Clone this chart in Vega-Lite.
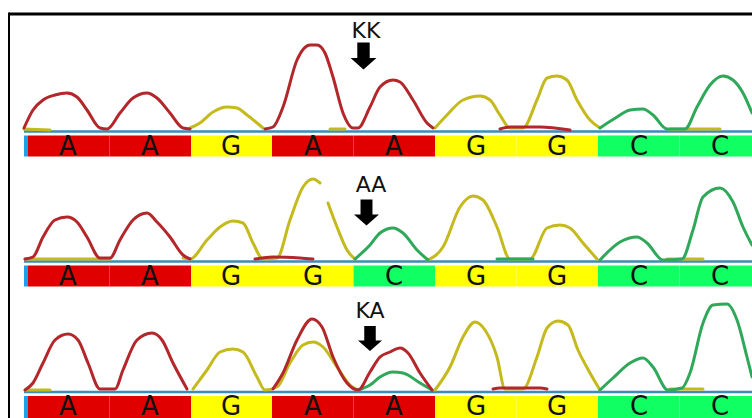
{
  "$schema": "https://vega.github.io/schema/vega-lite/v6.json",
  "padding": 0,
  "spacing": 0,
  "bounds": "flush",
  "background": "white",
  "config": {"view": {"stroke": null}, "concat": {"spacing": 0}},
  "resolve": {"scale": {"x": "independent", "y": "independent"}},
  "datasets": {
    "traces": [
      {"p":1,"c":"G","s":"a","x":24,"y":2},{"p":1,"c":"G","s":"a","x":50,"y":1},
      {"p":1,"c":"G","s":"b","x":190,"y":3},{"p":1,"c":"G","s":"b","x":200,"y":8},{"p":1,"c":"G","s":"b","x":213,"y":19},{"p":1,"c":"G","s":"b","x":227,"y":24},{"p":1,"c":"G","s":"b","x":237,"y":23},{"p":1,"c":"G","s":"b","x":247,"y":16},{"p":1,"c":"G","s":"b","x":263,"y":3},
      {"p":1,"c":"G","s":"c","x":330,"y":2},{"p":1,"c":"G","s":"c","x":345,"y":2},
      {"p":1,"c":"G","s":"d","x":435,"y":3},{"p":1,"c":"G","s":"d","x":447,"y":16},{"p":1,"c":"G","s":"d","x":463,"y":31},{"p":1,"c":"G","s":"d","x":480,"y":35},{"p":1,"c":"G","s":"d","x":490,"y":31},{"p":1,"c":"G","s":"d","x":500,"y":16},{"p":1,"c":"G","s":"d","x":510,"y":3},{"p":1,"c":"G","s":"d","x":523,"y":3},{"p":1,"c":"G","s":"d","x":537,"y":31},{"p":1,"c":"G","s":"d","x":547,"y":53},{"p":1,"c":"G","s":"d","x":557,"y":55},{"p":1,"c":"G","s":"d","x":567,"y":51},{"p":1,"c":"G","s":"d","x":577,"y":31},{"p":1,"c":"G","s":"d","x":590,"y":11},{"p":1,"c":"G","s":"d","x":600,"y":3},
      {"p":1,"c":"G","s":"e","x":670,"y":2},{"p":1,"c":"G","s":"e","x":720,"y":2},
      {"p":1,"c":"C","s":"a","x":600,"y":3},{"p":1,"c":"C","s":"a","x":617,"y":14},{"p":1,"c":"C","s":"a","x":630,"y":21},{"p":1,"c":"C","s":"a","x":643,"y":22},{"p":1,"c":"C","s":"a","x":653,"y":16},{"p":1,"c":"C","s":"a","x":667,"y":2},{"p":1,"c":"C","s":"a","x":685,"y":2},{"p":1,"c":"C","s":"a","x":697,"y":24},{"p":1,"c":"C","s":"a","x":710,"y":46},{"p":1,"c":"C","s":"a","x":723,"y":55},{"p":1,"c":"C","s":"a","x":733,"y":51},{"p":1,"c":"C","s":"a","x":743,"y":38},{"p":1,"c":"C","s":"a","x":752,"y":18},
      {"p":1,"c":"A","s":"a","x":24,"y":3},{"p":1,"c":"A","s":"a","x":33,"y":21},{"p":1,"c":"A","s":"a","x":43,"y":31},{"p":1,"c":"A","s":"a","x":55,"y":36},{"p":1,"c":"A","s":"a","x":67,"y":38},{"p":1,"c":"A","s":"a","x":77,"y":34},{"p":1,"c":"A","s":"a","x":87,"y":21},{"p":1,"c":"A","s":"a","x":100,"y":3},{"p":1,"c":"A","s":"a","x":107,"y":2},{"p":1,"c":"A","s":"a","x":120,"y":18},{"p":1,"c":"A","s":"a","x":133,"y":33},{"p":1,"c":"A","s":"a","x":147,"y":38},{"p":1,"c":"A","s":"a","x":157,"y":33},{"p":1,"c":"A","s":"a","x":170,"y":18},{"p":1,"c":"A","s":"a","x":183,"y":3},{"p":1,"c":"A","s":"a","x":190,"y":2},
      {"p":1,"c":"A","s":"b","x":265,"y":2},{"p":1,"c":"A","s":"b","x":273,"y":4},{"p":1,"c":"A","s":"b","x":283,"y":24},{"p":1,"c":"A","s":"b","x":297,"y":71},{"p":1,"c":"A","s":"b","x":310,"y":86},{"p":1,"c":"A","s":"b","x":317,"y":86},{"p":1,"c":"A","s":"b","x":325,"y":78},{"p":1,"c":"A","s":"b","x":333,"y":54},{"p":1,"c":"A","s":"b","x":343,"y":18},{"p":1,"c":"A","s":"b","x":353,"y":3},{"p":1,"c":"A","s":"b","x":358,"y":3},{"p":1,"c":"A","s":"b","x":370,"y":24},{"p":1,"c":"A","s":"b","x":380,"y":44},{"p":1,"c":"A","s":"b","x":393,"y":51},{"p":1,"c":"A","s":"b","x":400,"y":49},{"p":1,"c":"A","s":"b","x":413,"y":31},{"p":1,"c":"A","s":"b","x":427,"y":8},{"p":1,"c":"A","s":"b","x":433,"y":3},
      {"p":1,"c":"A","s":"c","x":500,"y":2},{"p":1,"c":"A","s":"c","x":510,"y":4},{"p":1,"c":"A","s":"c","x":540,"y":4},{"p":1,"c":"A","s":"c","x":570,"y":1},

      {"p":2,"c":"G","s":"a","x":25,"y":2},{"p":2,"c":"G","s":"a","x":110,"y":2},
      {"p":2,"c":"G","s":"b","x":183,"y":3},{"p":2,"c":"G","s":"b","x":190,"y":2},{"p":2,"c":"G","s":"b","x":207,"y":21},{"p":2,"c":"G","s":"b","x":220,"y":34},{"p":2,"c":"G","s":"b","x":233,"y":40},{"p":2,"c":"G","s":"b","x":243,"y":38},{"p":2,"c":"G","s":"b","x":253,"y":18},{"p":2,"c":"G","s":"b","x":263,"y":2},{"p":2,"c":"G","s":"b","x":277,"y":3},{"p":2,"c":"G","s":"b","x":290,"y":41},{"p":2,"c":"G","s":"b","x":303,"y":74},{"p":2,"c":"G","s":"b","x":313,"y":82},{"p":2,"c":"G","s":"b","x":320,"y":78},
      {"p":2,"c":"G","s":"c","x":328,"y":58},{"p":2,"c":"G","s":"c","x":337,"y":34},{"p":2,"c":"G","s":"c","x":347,"y":11},{"p":2,"c":"G","s":"c","x":355,"y":2},
      {"p":2,"c":"G","s":"d","x":428,"y":1},{"p":2,"c":"G","s":"d","x":443,"y":14},{"p":2,"c":"G","s":"d","x":460,"y":54},{"p":2,"c":"G","s":"d","x":473,"y":65},{"p":2,"c":"G","s":"d","x":483,"y":61},{"p":2,"c":"G","s":"d","x":497,"y":34},{"p":2,"c":"G","s":"d","x":510,"y":2},{"p":2,"c":"G","s":"d","x":530,"y":2},{"p":2,"c":"G","s":"d","x":547,"y":33},{"p":2,"c":"G","s":"d","x":560,"y":36},{"p":2,"c":"G","s":"d","x":570,"y":33},{"p":2,"c":"G","s":"d","x":583,"y":18},{"p":2,"c":"G","s":"d","x":597,"y":2},
      {"p":2,"c":"G","s":"e","x":667,"y":2},{"p":2,"c":"G","s":"e","x":703,"y":2},
      {"p":2,"c":"C","s":"a","x":355,"y":2},{"p":2,"c":"C","s":"a","x":370,"y":16},{"p":2,"c":"C","s":"a","x":380,"y":28},{"p":2,"c":"C","s":"a","x":393,"y":33},{"p":2,"c":"C","s":"a","x":403,"y":28},{"p":2,"c":"C","s":"a","x":417,"y":11},{"p":2,"c":"C","s":"a","x":428,"y":1},
      {"p":2,"c":"C","s":"b","x":497,"y":2},{"p":2,"c":"C","s":"b","x":533,"y":2},
      {"p":2,"c":"C","s":"c","x":600,"y":1},{"p":2,"c":"C","s":"c","x":620,"y":19},{"p":2,"c":"C","s":"c","x":637,"y":24},{"p":2,"c":"C","s":"c","x":647,"y":18},{"p":2,"c":"C","s":"c","x":663,"y":1},{"p":2,"c":"C","s":"c","x":682,"y":2},{"p":2,"c":"C","s":"c","x":693,"y":31},{"p":2,"c":"C","s":"c","x":703,"y":64},{"p":2,"c":"C","s":"c","x":720,"y":73},{"p":2,"c":"C","s":"c","x":733,"y":59},{"p":2,"c":"C","s":"c","x":743,"y":34},{"p":2,"c":"C","s":"c","x":752,"y":16},
      {"p":2,"c":"A","s":"a","x":25,"y":2},{"p":2,"c":"A","s":"a","x":33,"y":4},{"p":2,"c":"A","s":"a","x":43,"y":24},{"p":2,"c":"A","s":"a","x":55,"y":41},{"p":2,"c":"A","s":"a","x":67,"y":44},{"p":2,"c":"A","s":"a","x":77,"y":39},{"p":2,"c":"A","s":"a","x":87,"y":24},{"p":2,"c":"A","s":"a","x":100,"y":3},{"p":2,"c":"A","s":"a","x":110,"y":3},{"p":2,"c":"A","s":"a","x":120,"y":21},{"p":2,"c":"A","s":"a","x":133,"y":41},{"p":2,"c":"A","s":"a","x":147,"y":48},{"p":2,"c":"A","s":"a","x":157,"y":39},{"p":2,"c":"A","s":"a","x":170,"y":24},{"p":2,"c":"A","s":"a","x":183,"y":6},{"p":2,"c":"A","s":"a","x":190,"y":2},
      {"p":2,"c":"A","s":"b","x":255,"y":2},{"p":2,"c":"A","s":"b","x":262,"y":3},{"p":2,"c":"A","s":"b","x":273,"y":4},{"p":2,"c":"A","s":"b","x":300,"y":3},{"p":2,"c":"A","s":"b","x":313,"y":2},

      {"p":3,"c":"G","s":"a","x":25,"y":1.5},{"p":3,"c":"G","s":"a","x":50,"y":1.5},
      {"p":3,"c":"G","s":"b","x":193,"y":2.5},{"p":3,"c":"G","s":"b","x":207,"y":21.5},{"p":3,"c":"G","s":"b","x":220,"y":39.5},{"p":3,"c":"G","s":"b","x":233,"y":42.5},{"p":3,"c":"G","s":"b","x":243,"y":39.5},{"p":3,"c":"G","s":"b","x":257,"y":14.5},{"p":3,"c":"G","s":"b","x":265,"y":1.5},{"p":3,"c":"G","s":"b","x":277,"y":4.5},{"p":3,"c":"G","s":"b","x":290,"y":28.5},{"p":3,"c":"G","s":"b","x":303,"y":46.5},{"p":3,"c":"G","s":"b","x":313,"y":49.5},{"p":3,"c":"G","s":"b","x":323,"y":44.5},{"p":3,"c":"G","s":"b","x":337,"y":24.5},{"p":3,"c":"G","s":"b","x":350,"y":6.5},{"p":3,"c":"G","s":"b","x":358,"y":1.5},
      {"p":3,"c":"G","s":"c","x":435,"y":1.5},{"p":3,"c":"G","s":"c","x":450,"y":24.5},{"p":3,"c":"G","s":"c","x":463,"y":54.5},{"p":3,"c":"G","s":"c","x":475,"y":69.5},{"p":3,"c":"G","s":"c","x":485,"y":61.5},{"p":3,"c":"G","s":"c","x":497,"y":34.5},{"p":3,"c":"G","s":"c","x":505,"y":2.5},{"p":3,"c":"G","s":"c","x":523,"y":2.5},{"p":3,"c":"G","s":"c","x":537,"y":34.5},{"p":3,"c":"G","s":"c","x":547,"y":63.5},{"p":3,"c":"G","s":"c","x":558,"y":70.5},{"p":3,"c":"G","s":"c","x":568,"y":66.5},{"p":3,"c":"G","s":"c","x":578,"y":41.5},{"p":3,"c":"G","s":"c","x":590,"y":18.5},{"p":3,"c":"G","s":"c","x":600,"y":1.5},
      {"p":3,"c":"G","s":"d","x":670,"y":2.5},{"p":3,"c":"G","s":"d","x":703,"y":2.5},
      {"p":3,"c":"C","s":"a","x":358,"y":1.5},{"p":3,"c":"C","s":"a","x":370,"y":6.5},{"p":3,"c":"C","s":"a","x":380,"y":14.5},{"p":3,"c":"C","s":"a","x":393,"y":19.5},{"p":3,"c":"C","s":"a","x":403,"y":18.5},{"p":3,"c":"C","s":"a","x":420,"y":8.5},{"p":3,"c":"C","s":"a","x":432,"y":1.5},
      {"p":3,"c":"C","s":"b","x":600,"y":1.5},{"p":3,"c":"C","s":"b","x":613,"y":13.5},{"p":3,"c":"C","s":"b","x":630,"y":28.5},{"p":3,"c":"C","s":"b","x":643,"y":33.5},{"p":3,"c":"C","s":"b","x":653,"y":24.5},{"p":3,"c":"C","s":"b","x":668,"y":1.5},{"p":3,"c":"C","s":"b","x":682,"y":3.5},{"p":3,"c":"C","s":"b","x":690,"y":18.5},{"p":3,"c":"C","s":"b","x":703,"y":68.5},{"p":3,"c":"C","s":"b","x":713,"y":86.5},{"p":3,"c":"C","s":"b","x":727,"y":87.5},{"p":3,"c":"C","s":"b","x":737,"y":71.5},{"p":3,"c":"C","s":"b","x":747,"y":34.5},{"p":3,"c":"C","s":"b","x":752,"y":14.5},
      {"p":3,"c":"A","s":"a","x":25,"y":1.5},{"p":3,"c":"A","s":"a","x":33,"y":8.5},{"p":3,"c":"A","s":"a","x":43,"y":28.5},{"p":3,"c":"A","s":"a","x":55,"y":51.5},{"p":3,"c":"A","s":"a","x":68,"y":57.5},{"p":3,"c":"A","s":"a","x":78,"y":51.5},{"p":3,"c":"A","s":"a","x":88,"y":28.5},{"p":3,"c":"A","s":"a","x":100,"y":2.5},{"p":3,"c":"A","s":"a","x":115,"y":2.5},{"p":3,"c":"A","s":"a","x":123,"y":21.5},{"p":3,"c":"A","s":"a","x":137,"y":51.5},{"p":3,"c":"A","s":"a","x":152,"y":58.5},{"p":3,"c":"A","s":"a","x":162,"y":51.5},{"p":3,"c":"A","s":"a","x":173,"y":28.5},{"p":3,"c":"A","s":"a","x":187,"y":2.5},
      {"p":3,"c":"A","s":"b","x":273,"y":2.5},{"p":3,"c":"A","s":"b","x":283,"y":18.5},{"p":3,"c":"A","s":"b","x":297,"y":51.5},{"p":3,"c":"A","s":"b","x":312,"y":72.5},{"p":3,"c":"A","s":"b","x":322,"y":64.5},{"p":3,"c":"A","s":"b","x":333,"y":34.5},{"p":3,"c":"A","s":"b","x":347,"y":8.5},{"p":3,"c":"A","s":"b","x":358,"y":1.5},{"p":3,"c":"A","s":"b","x":370,"y":19.5},{"p":3,"c":"A","s":"b","x":380,"y":34.5},{"p":3,"c":"A","s":"b","x":390,"y":39.5},{"p":3,"c":"A","s":"b","x":400,"y":43.5},{"p":3,"c":"A","s":"b","x":408,"y":38.5},{"p":3,"c":"A","s":"b","x":420,"y":18.5},{"p":3,"c":"A","s":"b","x":432,"y":1.5},
      {"p":3,"c":"A","s":"c","x":493,"y":2.5},{"p":3,"c":"A","s":"c","x":500,"y":3.5},{"p":3,"c":"A","s":"c","x":540,"y":3.5},{"p":3,"c":"A","s":"c","x":547,"y":2.5}
    ],
    "bases": [
      {"p":1,"b":"A","x0":28,"x1":109.5,"xc":68},{"p":1,"b":"A","x0":109.5,"x1":191,"xc":150},{"p":1,"b":"G","x0":191,"x1":272,"xc":231},{"p":1,"b":"A","x0":272,"x1":353.5,"xc":313},{"p":1,"b":"A","x0":353.5,"x1":435,"xc":394},{"p":1,"b":"G","x0":435,"x1":516.5,"xc":476},{"p":1,"b":"G","x0":516.5,"x1":598,"xc":557},{"p":1,"b":"C","x0":598,"x1":679.5,"xc":639},{"p":1,"b":"C","x0":679.5,"x1":752,"xc":720},
      {"p":2,"b":"A","x0":28,"x1":109.5,"xc":68},{"p":2,"b":"A","x0":109.5,"x1":191,"xc":150},{"p":2,"b":"G","x0":191,"x1":272,"xc":231},{"p":2,"b":"G","x0":272,"x1":353.5,"xc":313},{"p":2,"b":"C","x0":353.5,"x1":435,"xc":394},{"p":2,"b":"G","x0":435,"x1":516.5,"xc":476},{"p":2,"b":"G","x0":516.5,"x1":598,"xc":557},{"p":2,"b":"C","x0":598,"x1":679.5,"xc":639},{"p":2,"b":"C","x0":679.5,"x1":752,"xc":720},
      {"p":3,"b":"A","x0":28,"x1":109.5,"xc":68},{"p":3,"b":"A","x0":109.5,"x1":191,"xc":150},{"p":3,"b":"G","x0":191,"x1":272,"xc":231},{"p":3,"b":"A","x0":272,"x1":353.5,"xc":313},{"p":3,"b":"A","x0":353.5,"x1":435,"xc":394},{"p":3,"b":"G","x0":435,"x1":516.5,"xc":476},{"p":3,"b":"G","x0":516.5,"x1":598,"xc":557},{"p":3,"b":"C","x0":598,"x1":679.5,"xc":639},{"p":3,"b":"C","x0":679.5,"x1":752,"xc":720}
    ],
    "labels": [
      {"p":1,"t":"KK","x":366,"y":93,"ax":363.5,"ay":75},
      {"p":2,"t":"AA","x":371,"y":69,"ax":366.5,"ay":48.5},
      {"p":3,"t":"KA","x":370,"y":73.5,"ax":370,"ay":53}
    ]
  },
  "vconcat": [
    {
      "width": 752, "height": 158,
      "layer": [
        {"data": {"values": [{}]}, "mark": {"type": "rule", "color": "black", "strokeWidth": 3},
         "encoding": {"x": {"datum": 9, "type": "quantitative", "scale": {"domain": [0, 752], "nice": false, "zero": false}, "axis": null}, "x2": {"datum": 752}, "y": {"datum": 117, "type": "quantitative", "scale": {"domain": [-27, 131], "nice": false, "zero": false}, "axis": null}}},
        {"data": {"values": [{}]}, "mark": {"type": "rule", "color": "black", "strokeWidth": 2},
         "encoding": {"x": {"datum": 9, "type": "quantitative"}, "y": {"datum": 118.5, "type": "quantitative"}, "y2": {"datum": -27}}},
        {"data": {"name": "bases"}, "transform": [{"filter": "datum.p == 1"}], "mark": {"type": "rect", "clip": true},
         "encoding": {"x": {"field": "x0", "type": "quantitative"}, "x2": {"field": "x1"}, "y": {"datum": -4.5, "type": "quantitative"}, "y2": {"datum": -25.5},
           "fill": {"field": "b", "type": "nominal", "scale": {"domain": ["A", "C", "G"], "range": ["#e00000", "#10ff62", "#ffff00"]}, "legend": null}}},
        {"data": {"values": [{}]}, "mark": {"type": "rect", "color": "#1ea0e6"},
         "encoding": {"x": {"datum": 24, "type": "quantitative"}, "x2": {"datum": 28}, "y": {"datum": -4.5, "type": "quantitative"}, "y2": {"datum": -25.5}}},
        {"data": {"name": "bases"}, "transform": [{"filter": "datum.p == 1"}], "mark": {"type": "text", "font": "DejaVu Sans", "fontSize": 26, "color": "#111111", "baseline": "alphabetic"},
         "encoding": {"x": {"field": "xc", "type": "quantitative"}, "y": {"datum": -23.5, "type": "quantitative"}, "text": {"field": "b"}}},
        {"data": {"values": [{}]}, "mark": {"type": "rule", "color": "#3a8db5", "strokeWidth": 2.5},
         "encoding": {"x": {"datum": 24, "type": "quantitative"}, "x2": {"datum": 752}, "y": {"datum": -0.5, "type": "quantitative"}}},
        {"data": {"name": "traces"}, "transform": [{"filter": "datum.p == 1"}], "mark": {"type": "line", "interpolate": "monotone", "strokeWidth": 3, "clip": true, "strokeCap": "round", "strokeJoin": "round"},
         "encoding": {"x": {"field": "x", "type": "quantitative"}, "y": {"field": "y", "type": "quantitative"}, "detail": {"field": "s"}, "order": {"field": "x"},
           "stroke": {"field": "c", "type": "nominal", "scale": {"domain": ["A", "C", "G"], "range": ["#b3272b", "#2fa85a", "#c5ba1d"]}, "legend": null}}},
        {"data": {"name": "labels"}, "transform": [{"filter": "datum.p == 1"}], "mark": {"type": "text", "font": "DejaVu Sans", "fontSize": 22, "color": "#111111", "baseline": "alphabetic"},
         "encoding": {"x": {"field": "x", "type": "quantitative"}, "y": {"field": "y", "type": "quantitative"}, "text": {"field": "t"}}},
        {"data": {"name": "labels"}, "transform": [{"filter": "datum.p == 1"}], "mark": {"type": "point", "filled": true, "color": "black", "opacity": 1, "size": 729, "shape": "M-0.46,-1L0.46,-1L0.46,0.15L0.96,0.15L0,1L-0.96,0.15L-0.46,0.15Z"},
         "encoding": {"x": {"field": "ax", "type": "quantitative"}, "y": {"field": "ay", "type": "quantitative"}}}
      ]
    },
    {
      "width": 752, "height": 131,
      "layer": [
        {"data": {"values": [{}]}, "mark": {"type": "rule", "color": "black", "strokeWidth": 2},
         "encoding": {"x": {"datum": 9, "type": "quantitative", "scale": {"domain": [0, 752], "nice": false, "zero": false}, "axis": null}, "y": {"datum": 103, "type": "quantitative", "scale": {"domain": [-28, 103], "nice": false, "zero": false}, "axis": null}, "y2": {"datum": -28}}},
        {"data": {"name": "bases"}, "transform": [{"filter": "datum.p == 2"}], "mark": {"type": "rect", "clip": true},
         "encoding": {"x": {"field": "x0", "type": "quantitative"}, "x2": {"field": "x1"}, "y": {"datum": -4.5, "type": "quantitative"}, "y2": {"datum": -25.5},
           "fill": {"field": "b", "type": "nominal", "scale": {"domain": ["A", "C", "G"], "range": ["#e00000", "#10ff62", "#ffff00"]}, "legend": null}}},
        {"data": {"values": [{}]}, "mark": {"type": "rect", "color": "#1ea0e6"},
         "encoding": {"x": {"datum": 24, "type": "quantitative"}, "x2": {"datum": 28}, "y": {"datum": -4.5, "type": "quantitative"}, "y2": {"datum": -25.5}}},
        {"data": {"name": "bases"}, "transform": [{"filter": "datum.p == 2"}], "mark": {"type": "text", "font": "DejaVu Sans", "fontSize": 26, "color": "#111111", "baseline": "alphabetic"},
         "encoding": {"x": {"field": "xc", "type": "quantitative"}, "y": {"datum": -23.5, "type": "quantitative"}, "text": {"field": "b"}}},
        {"data": {"values": [{}]}, "mark": {"type": "rule", "color": "#3a8db5", "strokeWidth": 2.5},
         "encoding": {"x": {"datum": 24, "type": "quantitative"}, "x2": {"datum": 752}, "y": {"datum": -0.5, "type": "quantitative"}}},
        {"data": {"name": "traces"}, "transform": [{"filter": "datum.p == 2"}], "mark": {"type": "line", "interpolate": "monotone", "strokeWidth": 3, "clip": true, "strokeCap": "round", "strokeJoin": "round"},
         "encoding": {"x": {"field": "x", "type": "quantitative"}, "y": {"field": "y", "type": "quantitative"}, "detail": {"field": "s"}, "order": {"field": "x"},
           "stroke": {"field": "c", "type": "nominal", "scale": {"domain": ["A", "C", "G"], "range": ["#b3272b", "#2fa85a", "#c5ba1d"]}, "legend": null}}},
        {"data": {"name": "labels"}, "transform": [{"filter": "datum.p == 2"}], "mark": {"type": "text", "font": "DejaVu Sans", "fontSize": 22, "color": "#111111", "baseline": "alphabetic"},
         "encoding": {"x": {"field": "x", "type": "quantitative"}, "y": {"field": "y", "type": "quantitative"}, "text": {"field": "t"}}},
        {"data": {"name": "labels"}, "transform": [{"filter": "datum.p == 2"}], "mark": {"type": "point", "filled": true, "color": "black", "opacity": 1, "size": 676, "shape": "M-0.46,-1L0.46,-1L0.46,0.15L0.96,0.15L0,1L-0.96,0.15L-0.46,0.15Z"},
         "encoding": {"x": {"field": "ax", "type": "quantitative"}, "y": {"field": "ay", "type": "quantitative"}}}
      ]
    },
    {
      "width": 752, "height": 129,
      "layer": [
        {"data": {"values": [{}]}, "mark": {"type": "rule", "color": "black", "strokeWidth": 2},
         "encoding": {"x": {"datum": 9, "type": "quantitative", "scale": {"domain": [0, 752], "nice": false, "zero": false}, "axis": null}, "y": {"datum": 102.5, "type": "quantitative", "scale": {"domain": [-26.5, 102.5], "nice": false, "zero": false}, "axis": null}, "y2": {"datum": -26.5}}},
        {"data": {"name": "bases"}, "transform": [{"filter": "datum.p == 3"}], "mark": {"type": "rect", "clip": true},
         "encoding": {"x": {"field": "x0", "type": "quantitative"}, "x2": {"field": "x1"}, "y": {"datum": -4.5, "type": "quantitative"}, "y2": {"datum": -26.5},
           "fill": {"field": "b", "type": "nominal", "scale": {"domain": ["A", "C", "G"], "range": ["#e00000", "#10ff62", "#ffff00"]}, "legend": null}}},
        {"data": {"values": [{}]}, "mark": {"type": "rect", "color": "#1ea0e6"},
         "encoding": {"x": {"datum": 24, "type": "quantitative"}, "x2": {"datum": 28}, "y": {"datum": -4.5, "type": "quantitative"}, "y2": {"datum": -26.5}}},
        {"data": {"name": "bases"}, "transform": [{"filter": "datum.p == 3"}], "mark": {"type": "text", "font": "DejaVu Sans", "fontSize": 26, "color": "#111111", "baseline": "alphabetic"},
         "encoding": {"x": {"field": "xc", "type": "quantitative"}, "y": {"datum": -23.5, "type": "quantitative"}, "text": {"field": "b"}}},
        {"data": {"values": [{}]}, "mark": {"type": "rule", "color": "#3a8db5", "strokeWidth": 2.5},
         "encoding": {"x": {"datum": 24, "type": "quantitative"}, "x2": {"datum": 752}, "y": {"datum": -0.5, "type": "quantitative"}}},
        {"data": {"name": "traces"}, "transform": [{"filter": "datum.p == 3"}], "mark": {"type": "line", "interpolate": "monotone", "strokeWidth": 3, "clip": true, "strokeCap": "round", "strokeJoin": "round"},
         "encoding": {"x": {"field": "x", "type": "quantitative"}, "y": {"field": "y", "type": "quantitative"}, "detail": {"field": "s"}, "order": {"field": "x"},
           "stroke": {"field": "c", "type": "nominal", "scale": {"domain": ["A", "C", "G"], "range": ["#b3272b", "#2fa85a", "#c5ba1d"]}, "legend": null}}},
        {"data": {"name": "labels"}, "transform": [{"filter": "datum.p == 3"}], "mark": {"type": "text", "font": "DejaVu Sans", "fontSize": 22, "color": "#111111", "baseline": "alphabetic"},
         "encoding": {"x": {"field": "x", "type": "quantitative"}, "y": {"field": "y", "type": "quantitative"}, "text": {"field": "t"}}},
        {"data": {"name": "labels"}, "transform": [{"filter": "datum.p == 3"}], "mark": {"type": "point", "filled": true, "color": "black", "opacity": 1, "size": 625, "shape": "M-0.46,-1L0.46,-1L0.46,0.15L0.96,0.15L0,1L-0.96,0.15L-0.46,0.15Z"},
         "encoding": {"x": {"field": "ax", "type": "quantitative"}, "y": {"field": "ay", "type": "quantitative"}}}
      ]
    }
  ]
}
